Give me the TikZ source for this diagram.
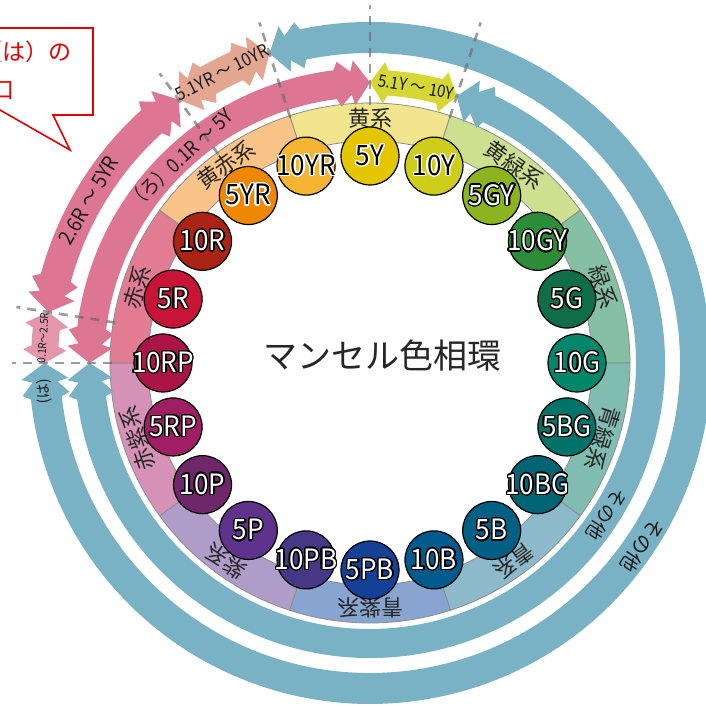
\documentclass[tikz,border=0pt]{standalone}
\usepackage{fontspec}
\setmainfont{Noto Sans CJK JP}
\newfontfamily\circfont{Noto Sans CJK JP}[FakeStretch=0.93]
\newfontfamily\arfont{Noto Sans CJK JP}[FakeStretch=0.9]
\usepackage[copies]{contour}
\contourlength{1.3pt}
\contournumber{20}

% band colours
\definecolor{bY}{RGB}{241,229,141}
\definecolor{bGY}{RGB}{205,224,143}
\definecolor{bG}{RGB}{133,192,163}
\definecolor{bBG}{RGB}{128,188,176}
\definecolor{bB}{RGB}{140,186,202}
\definecolor{bPB}{RGB}{135,165,208}
\definecolor{bP}{RGB}{176,156,200}
\definecolor{bRP}{RGB}{214,146,182}
\definecolor{bR}{RGB}{226,124,146}
\definecolor{bYR}{RGB}{250,196,137}
% hue circles
\definecolor{c5Y}{RGB}{228,198,0}
\definecolor{c10Y}{RGB}{207,205,28}
\definecolor{c5GY}{RGB}{140,180,30}
\definecolor{c10GY}{RGB}{45,140,55}
\definecolor{c5G}{RGB}{15,110,72}
\definecolor{c10G}{RGB}{0,135,105}
\definecolor{c5BG}{RGB}{0,115,105}
\definecolor{c10BG}{RGB}{0,100,115}
\definecolor{c5B}{RGB}{0,95,130}
\definecolor{c10B}{RGB}{0,90,140}
\definecolor{c5PB}{RGB}{20,65,150}
\definecolor{c10PB}{RGB}{70,55,135}
\definecolor{c5P}{RGB}{95,50,140}
\definecolor{c10P}{RGB}{110,40,105}
\definecolor{c5RP}{RGB}{160,30,100}
\definecolor{c10RP}{RGB}{170,20,70}
\definecolor{c5R}{RGB}{200,20,55}
\definecolor{c10R}{RGB}{170,35,20}
\definecolor{c5YR}{RGB}{240,135,0}
\definecolor{c10YR}{RGB}{245,180,50}
% arrows
\definecolor{arBlue}{RGB}{122,178,197}
\definecolor{arPink}{RGB}{221,118,147}
\definecolor{arPinkL}{RGB}{228,150,172}
\definecolor{arSalmon}{RGB}{226,166,145}
\definecolor{arYellow}{RGB}{214,214,52}
\definecolor{calred}{RGB}{230,0,0}

% double-barbed arc arrow: style, start angle (larger), end angle, r in, r out
\newcommand\arcarrowD[5]{%
 \pgfmathsetmacro\arRm{(#4+#5)/2}%
 \pgfmathsetmacro\arK{180/(3.14159*\arRm)}%
 \pgfmathsetmacro\arBo{#5+8}%
 \pgfmathsetmacro\arBi{#4-8}%
 \pgfmathsetmacro\arNo{#5-3}%
 \pgfmathsetmacro\arNi{#4+3}%
 \pgfmathsetmacro\arSa{#2-16*\arK}%
 \pgfmathsetmacro\arSb{#2-19*\arK}%
 \pgfmathsetmacro\arSc{#2-31*\arK}%
 \pgfmathsetmacro\arSd{#2-35*\arK}%
 \pgfmathsetmacro\arEa{#3+16*\arK}%
 \pgfmathsetmacro\arEb{#3+19*\arK}%
 \pgfmathsetmacro\arEc{#3+31*\arK}%
 \pgfmathsetmacro\arEd{#3+35*\arK}%
 \fill[#1] (#2:\arRm pt) -- (\arSa:\arBo pt) -- (\arSb:\arNo pt) -- (\arSc:\arBo pt) -- (\arSd:#5pt)
   arc[start angle=\arSd, end angle=\arEd, radius=#5pt]
   -- (\arEc:\arBo pt) -- (\arEb:\arNo pt) -- (\arEa:\arBo pt) -- (#3:\arRm pt)
   -- (\arEa:\arBi pt) -- (\arEb:\arNi pt) -- (\arEc:\arBi pt) -- (\arEd:#4pt)
   arc[start angle=\arEd, end angle=\arSd, radius=#4pt]
   -- (\arSc:\arBi pt) -- (\arSb:\arNi pt) -- (\arSa:\arBi pt) -- cycle;
}
% single-barbed arc arrow: style, start angle, end angle, r in, r out, barb length
\newcommand\arcarrowS[6]{%
 \pgfmathsetmacro\arRm{(#4+#5)/2}%
 \pgfmathsetmacro\arK{180/(3.14159*\arRm)}%
 \pgfmathsetmacro\arBo{#5+6}%
 \pgfmathsetmacro\arBi{#4-6}%
 \pgfmathsetmacro\arNo{#5-2}%
 \pgfmathsetmacro\arNi{#4+2}%
 \pgfmathsetmacro\arSa{#2-#6*\arK}%
 \pgfmathsetmacro\arSb{#2-(#6+4)*\arK}%
 \pgfmathsetmacro\arEa{#3+#6*\arK}%
 \pgfmathsetmacro\arEb{#3+(#6+4)*\arK}%
 \fill[#1] (#2:\arRm pt) -- (\arSa:\arBo pt) -- (\arSb:\arNo pt)
   arc[start angle=\arSb, end angle=\arEb, radius=\arNo pt]
   -- (\arEa:\arBo pt) -- (#3:\arRm pt) -- (\arEa:\arBi pt) -- (\arEb:\arNi pt)
   arc[start angle=\arEb, end angle=\arSb, radius=\arNi pt]
   -- (\arSa:\arBi pt) -- cycle;
}

\tikzset{
 hcirc/.style={circle, draw=black, line width=1.2pt, minimum size=58pt, inner sep=0pt},
 hlab/.style={font=\circfont\fontsize{28}{28}\selectfont, inner sep=0pt},
 bandseg/.style={draw=black!45, line width=0.8pt},
 bandlab/.style={font=\fontsize{22}{22}\selectfont, inner sep=0pt, text=black!85},
 arlab/.style={font=\arfont\fontsize{20}{20}\selectfont, inner sep=0pt, text=black!90},
 jplab/.style={font=\fontsize{19}{19}\selectfont, inner sep=0pt, text=black!90},
 dashln/.style={draw=black!60, opacity=0.65, line width=2.6pt, dash pattern=on 9pt off 7pt},
 callout/.style={draw=calred, line width=1.6pt, fill=white},
 caltext/.style={text=calred, font=\fontsize{23}{23}\selectfont, inner sep=0pt},
}

\begin{document}
\begin{tikzpicture}[x=1pt,y=1pt]
\useasboundingbox (0,0) rectangle (706,707);
\clip (0,0) rectangle (706,707);
\fill[white] (0,0) rectangle (706,707);
\begin{scope}[shift={(370,344)}]
 % hue category band
 \foreach \a/\b/\col/\txt/\m in {72/108/bY/黄系/90, 36/72/bGY/黄緑系/54, 0/36/bG/緑系/18,
   -36/0/bBG/青緑系/-18, -72/-36/bB/青系/-54, -108/-72/bPB/青紫系/-90, -144/-108/bP/紫系/-126,
   -180/-144/bRP/赤紫系/-162, 144/180/bR/赤系/162, 108/144/bYR/黄赤系/126}{
   \filldraw[bandseg, fill=\col] (\a:222pt) -- (\a:260pt) arc[start angle=\a, end angle=\b, radius=260pt]
     -- (\b:222pt) arc[start angle=\b, end angle=\a, radius=222pt] -- cycle;
   \pgfmathsetmacro\rot{\m-90}
   \node[bandlab, rotate=\rot] (l\col) at (\m:245pt) {\txt};
 }
 % arrows, inner ring
 \arcarrowD{arPink}{180}{90}{266}{295}
 \arcarrowS{arYellow}{90}{72}{266}{295}{14}
 \arcarrowD{arBlue}{72}{-180}{266}{295}
 % arrows, outer ring
 \arcarrowS{arPinkL}{180}{171}{310}{341}{13}
 \arcarrowD{arPink}{171}{126}{310}{341}
 \arcarrowD{arSalmon}{126}{108}{310}{341}
 \arcarrowD{arBlue}{108}{-180}{310}{341}
 % dashed division lines
 \foreach \a in {90,72,108,126,171,180}
   \draw[dashln] (\a:258pt) -- (\a:358pt);
 % hue circles
 \foreach \nm/\ang/\oc/\tc in {5Y/90/white/black, 10Y/72/white/black, 5GY/54/black/white,
   10GY/36/black/white, 5G/18/black/white, 10G/0/black/white, 5BG/-18/black/white,
   10BG/-36/black/white, 5B/-54/black/white, 10B/-72/black/white, 5PB/-90/black/white,
   10PB/-108/black/white, 5P/-126/black/white, 10P/-144/black/white, 5RP/-162/black/white,
   10RP/180/black/white, 5R/162/black/white, 10R/144/black/white, 5YR/126/white/black,
   10YR/108/white/black}{
   \node[hcirc, fill=c\nm] (c\nm) at (\ang:207pt) {};
   \node[hlab] (t\nm) at (c\nm.center) {\contour{\oc}{\textcolor{\tc}{\nm}}};
 }
 % arrow labels
 \node[arlab, rotate=43] (lro) at (133:279pt) {（ろ）0.1R ～ 5Y};
 \node[arlab, rotate=60, font=\arfont\fontsize{21}{21}\selectfont] (l26) at (150:325pt) {2.6R ～ 5YR};
 \node[arlab, rotate=27, font=\arfont\fontsize{18}{18}\selectfont] (l51yr) at (117:326pt) {5.1YR ～ 10YR};
 \node[arlab, rotate=-10, font=\arfont\fontsize{17}{17}\selectfont] (l51y) at (80.5:280pt) {5.1Y ～ 10Y};
 \node[arlab, rotate=86, font=\arfont\fontsize{11}{11}\selectfont] (l01) at (175.6:328pt) {0.1R～2.5R};
 \node[arlab, rotate=95, font=\fontsize{15}{15}\selectfont] (lha) at (185:327pt) {(は)};
 \node[jplab, rotate=-123] (loth1) at (-32.6:281pt) {その他};
 \node[jplab, rotate=-124, font=\fontsize{20}{20}\selectfont] (loth2) at (-33.8:328pt) {その他};
 % centre title
 \node[font=\fontsize{34}{34}\selectfont, text=black!85, inner sep=0pt] (title) at (12,7) {マンセル色相環};
\end{scope}
% callout
\filldraw[callout] (-10,679) -- (93,679) -- (93,592) -- (53,592) -- (70,557) -- (-10,602.7) -- cycle;
\node[caltext, anchor=west] (cal1) at (-21,655) {（は）の};
\node[caltext] (cal2) at (3,616) {口};
\end{tikzpicture}
\end{document}
